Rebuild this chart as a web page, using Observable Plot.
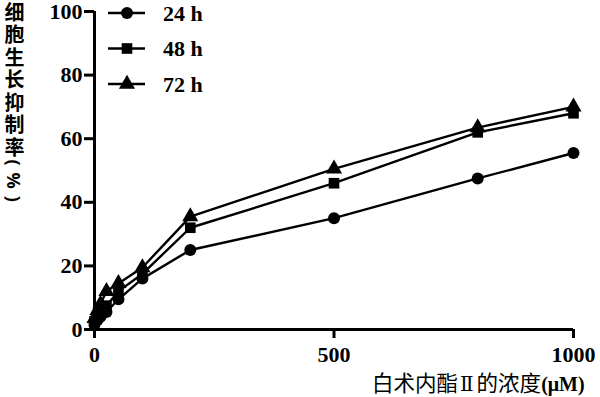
<!DOCTYPE html>
<html>
<head>
<meta charset="utf-8">
<script src="https://cdn.jsdelivr.net/npm/d3@7"></script>
<script src="https://cdn.jsdelivr.net/npm/@observablehq/plot@0.6"></script>
<style>
  body { margin: 0; background: #fff; }
  #wrap { position: relative; width: 600px; height: 397px; overflow: hidden; }
  #ytitle { position: absolute; left: 3px; top: 2px; writing-mode: vertical-rl; text-orientation: upright; font-family: "Noto Sans CJK SC", sans-serif; font-weight: bold; font-size: 20px; line-height: 22px; letter-spacing: 2.5px; color: #000; white-space: nowrap; }
  #ytitle .sw { text-orientation: sideways; font-family: "Noto Sans", sans-serif; font-size: 18px; letter-spacing: 7px; }
  #xtitle { position: absolute; left: 372px; top: 369px; font-family: "Noto Sans CJK SC", sans-serif; font-size: 21.5px; line-height: 26px; color: #000; white-space: nowrap; }
  #xtitle .roman { font-family: "DejaVu Serif", serif; font-size: 20px; margin: 0 3px 0 2px; }
  #xtitle b { font-family: "Liberation Serif", serif; font-size: 20px; }
  svg text { font-family: "Liberation Serif", serif; font-weight: bold; }
</style>
</head>
<body>
<div id="wrap">
  <div id="ytitle"></div>
  <div id="xtitle"></div>
</div>
<script>
const concentrations = [0, 6.25, 12.5, 25, 50, 100, 200, 500, 800, 1000];
const seriesNames = ["24 h", "48 h", "72 h"];
const values24 = [1.5, 3, 4, 5.5, 9.5, 16, 25, 35, 47.5, 55.5];
const values48 = [2.5, 4.5, 6, 7.5, 12, 17.5, 32, 46, 62, 68];
const values72 = [3.5, 6, 8, 12, 14.5, 19.5, 35.5, 50.5, 63.5, 70];
const xTicks = [0, 500, 1000];
const yTicks = [0, 20, 40, 60, 80, 100];
const symbols = ["circle", "square", "triangle"];
const yTitleMain = "细胞生长抑制率";
const yTitleUnit = "(%)";
const xTitleParts = ["白术内酯", "Ⅱ", "的浓度"];
const xUnit = "(μM)";

const ytEl = document.getElementById("ytitle");
ytEl.appendChild(document.createTextNode(yTitleMain));
const yu = document.createElement("span");
yu.className = "sw";
yu.textContent = yTitleUnit;
ytEl.appendChild(yu);

const xt = document.getElementById("xtitle");
xt.appendChild(document.createTextNode(xTitleParts[0]));
const rn = document.createElement("span");
rn.className = "roman";
rn.textContent = xTitleParts[1];
xt.appendChild(rn);
xt.appendChild(document.createTextNode(xTitleParts[2]));
const ub = document.createElement("b");
ub.textContent = xUnit;
xt.appendChild(ub);

const seriesValues = [values24, values48, values72];
const data = [];
seriesNames.forEach((s, i) => concentrations.forEach((c, j) => data.push({series: s, x: c, y: seriesValues[i][j]})));

const chart = Plot.plot({
  width: 600,
  height: 397,
  marginLeft: 94,
  marginRight: 27,
  marginTop: 11,
  marginBottom: 68,
  x: {domain: [0, 1000]},
  y: {domain: [0, 100]},
  symbol: {domain: seriesNames, range: symbols},
  marks: [
    Plot.axisX({ticks: xTicks, tickFormat: d => String(d), tickSize: 9, tickPadding: 8, strokeWidth: 3, fontSize: 22, fontWeight: "bold", label: null}),
    Plot.axisY({ticks: yTicks, tickFormat: d => String(d), tickSize: 10, tickPadding: 2, strokeWidth: 3, fontSize: 22, fontWeight: "bold", label: null}),
    Plot.ruleY([0], {strokeWidth: 3}),
    Plot.ruleX([0], {strokeWidth: 3}),
    Plot.line(data, {x: "x", y: "y", z: "series", stroke: "black", strokeWidth: 2.4}),
    Plot.dot(data, {x: "x", y: "y", symbol: "series", fill: "black", r: 6})
  ]
});

// legend
const svg = d3.select(chart);
const leg = svg.append("g");
const symFns = [d3.symbolCircle, d3.symbolSquare, d3.symbolTriangle];
seriesNames.forEach((name, i) => {
  const yy = 13 + i * 35.5;
  leg.append("line").attr("x1", 108).attr("x2", 145).attr("y1", yy).attr("y2", yy).attr("stroke", "black").attr("stroke-width", 2.5);
  leg.append("path").attr("transform", `translate(127,${yy})`)
    .attr("d", d3.symbol(symFns[i], Math.PI * 6 * 6)())
    .attr("fill", "black");
  leg.append("text").attr("x", 163).attr("y", yy).attr("dy", "0.36em")
    .attr("text-anchor", "start").attr("font-size", 22).attr("font-weight", "bold").text(name);
});

document.getElementById("wrap").prepend(chart);
</script>
</body>
</html>
